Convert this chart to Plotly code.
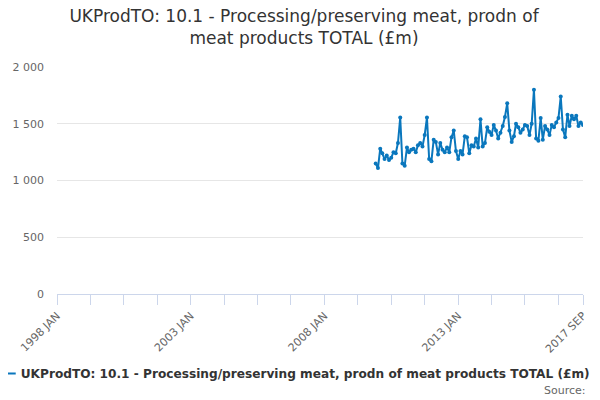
import pandas as pd
import plotly.graph_objects as go

# monthly values, 2009 DEC - 2017 SEP
first_month = "2009-12-01"
values = [
    1150, 1110, 1280, 1240, 1190, 1220, 1180, 1200, 1250, 1240, 1330, 1555,
    1150, 1130, 1290, 1250, 1270, 1280, 1250, 1310, 1330, 1300, 1400, 1555,
    1190, 1170, 1360, 1340, 1230, 1330, 1270, 1250, 1290, 1250, 1380, 1440,
    1260, 1190, 1260, 1230, 1390, 1380, 1240, 1310, 1300, 1370, 1290, 1540,
    1300, 1330, 1470, 1430, 1400, 1490, 1440, 1370, 1420, 1480, 1560, 1680,
    1440, 1340, 1390, 1500, 1470, 1420, 1450, 1490, 1480, 1400, 1500, 1800,
    1370, 1350, 1550, 1360, 1480, 1450, 1400, 1490, 1470, 1510, 1550, 1740,
    1450, 1380, 1580, 1480, 1570, 1540, 1570, 1480, 1510, 1490,
]
months = pd.date_range(first_month, periods=len(values), freq="MS")

# x ticks every 15 months from 1998 JAN, plus the last month
tick_dates = list(pd.date_range("1998-01-01", periods=16, freq="15MS")) + [pd.Timestamp("2017-09-01")]
tick_labels = ["1998 JAN", "", "", "", "2003 JAN", "", "", "", "2008 JAN", "", "", "",
               "2013 JAN", "", "", "", "2017 SEP"]

y_ticks = [0, 500, 1000, 1500, 2000]
y_labels = ["0", "500", "1 000", "1 500", "2 000"]

series_name = "UKProdTO: 10.1 - Processing/preserving meat, prodn of meat products TOTAL (£m)"
blue = "#0a77bd"

fig = go.Figure()
fig.add_trace(go.Scatter(
    x=months, y=values, mode="lines+markers", name=series_name,
    line=dict(color=blue, width=2),
    marker=dict(color=blue, size=4),
))

# page body has an 8px margin, so the figure is 8px smaller each way
fig.update_layout(
    width=592, height=392,
    margin=dict(l=49, r=17, t=59, b=106, autoexpand=False),
    paper_bgcolor="white", plot_bgcolor="white",
    font=dict(family="DejaVu Sans", color="#333333"),
    title=dict(
        text="UKProdTO: 10.1 - Processing/preserving meat, prodn of<br>meat products TOTAL (£m)",
        x=0.5, xanchor="center", y=0.964, yanchor="top",
        font=dict(size=17, color="#333333"),
    ),
    showlegend=True,
    legend=dict(
        orientation="h", x=-0.145, xanchor="left", y=-0.35, yanchor="middle",
        font=dict(size=12.15, color="#333333", weight="bold"),
        bgcolor="rgba(0,0,0,0)",
    ),
    xaxis=dict(
        type="date", range=["1998-01-01", "2017-09-01"],
        tickvals=tick_dates, ticktext=tick_labels, tickangle=-45,
        ticks="outside", ticklen=10, tickcolor="#ccd6eb",
        showline=True, linecolor="#ccd6eb", linewidth=1,
        showgrid=False, zeroline=False,
        tickfont=dict(size=11, color="#666666"),
    ),
    yaxis=dict(
        range=[0, 2000], tickvals=y_ticks, ticktext=y_labels,
        showgrid=True, gridcolor="#e6e6e6", zeroline=False,
        ticks="", ticklabelstandoff=12,
        tickfont=dict(size=11, color="#666666"),
    ),
    annotations=[dict(
        text="Source:", xref="paper", yref="paper", x=1.01, y=-0.423,
        xanchor="right", yanchor="middle", showarrow=False,
        font=dict(size=11, color="#666666"),
    )],
)

fig.write_html("out.html")
